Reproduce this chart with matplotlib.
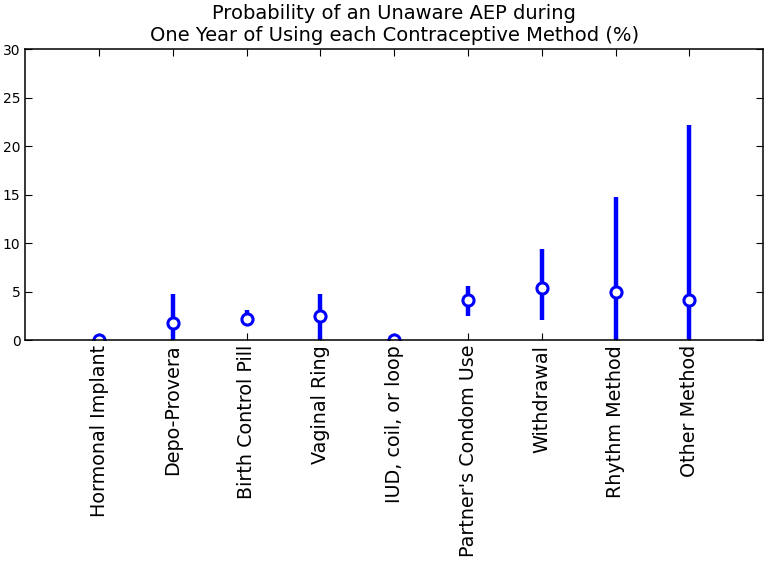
import numpy as np
import matplotlib
matplotlib.use("Agg")
import matplotlib.pyplot as plt

methods = ["Hormonal Implant", "Depo-Provera", "Birth Control Pill", "Vaginal Ring",
           "IUD, coil, or loop", "Partner's Condom Use", "Withdrawal",
           "Rhythm Method", "Other Method"]
prob = [0.0, 1.75, 2.15, 2.5, 0.0, 4.1, 5.4, 4.95, 4.15]
lower = [0.0, -1.2, 1.5, -0.5, 0.0, 2.5, 2.1, -4.0, -8.0]
upper = [0.0, 4.7, 3.1, 4.8, 0.0, 5.6, 9.4, 14.8, 22.2]


def main():
    x = np.arange(len(methods))
    p = np.array(prob)
    yerr = [p - np.array(lower), np.array(upper) - p]

    fig, ax = plt.subplots(figsize=(7.67, 5.62), dpi=100)
    ax.errorbar(x, p, yerr=yerr, fmt="o", color="blue", ecolor="blue",
                elinewidth=3.2, capsize=0, markersize=8,
                markerfacecolor="white", markeredgecolor="blue",
                markeredgewidth=2.2)

    ax.set_xlim(-1, len(methods))
    ax.set_ylim(0, 30)
    ax.set_yticks(range(0, 31, 5))
    ax.set_xticks(x)
    ax.set_xticklabels(methods, rotation=90, fontsize=13.8)
    ax.tick_params(axis="y", labelsize=10)
    ax.tick_params(direction="in", top=True, right=True, length=5)
    for s in ax.spines.values():
        s.set_linewidth(1.1)
    ax.set_title("Probability of an Unaware AEP during\n"
                 "One Year of Using each Contraceptive Method (%)", fontsize=14)

    fig.subplots_adjust(left=0.033, right=0.995, top=0.912, bottom=0.395)
    fig.savefig("out.png", dpi=100)


if __name__ == "__main__":
    main()
